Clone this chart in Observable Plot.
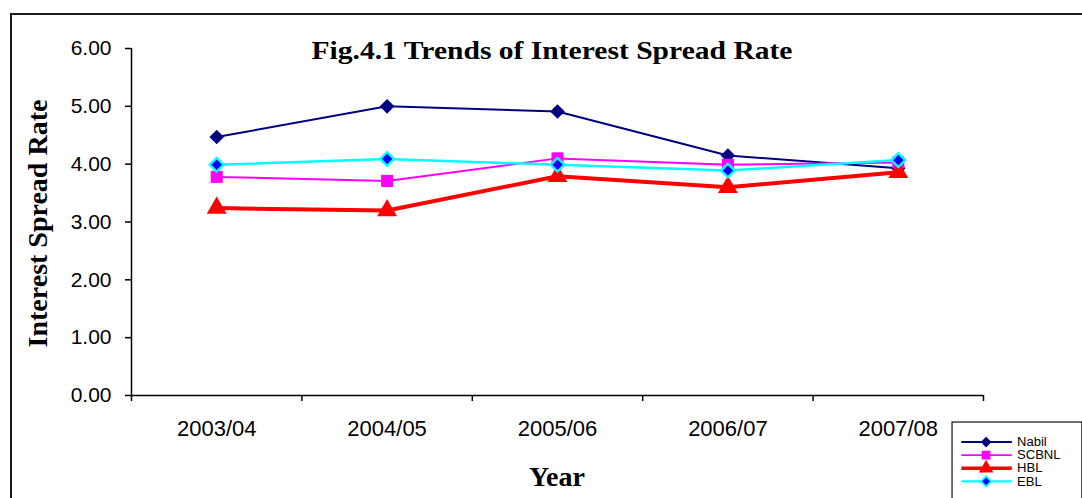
<!DOCTYPE html>
<html><head><meta charset="utf-8">
<script src="https://cdn.jsdelivr.net/npm/d3@7"></script>
<script src="https://cdn.jsdelivr.net/npm/@observablehq/plot@0.6"></script>
<style>
html,body{margin:0;padding:0;background:#fff;}
#wrap{position:relative;width:1082px;height:498px;overflow:hidden;background:#fff;}
#border{position:absolute;left:10px;top:13px;width:1200px;height:600px;border-left:2px solid #1a1a1a;border-top:2px solid #1a1a1a;}
#chart{position:absolute;left:0;top:0;}
#legend{position:absolute;left:951px;top:421px;}
#labels{position:absolute;left:0;top:0;}
</style></head><body>
<div id="wrap"><div id="border"></div><div id="chart"></div><svg id="labels" width="1082" height="498"></svg><div id="legend"></div></div>
<script>
// ---- data ----
const years = ["2003/04", "2004/05", "2005/06", "2006/07", "2007/08"];
const nabil = [4.47, 5.00, 4.91, 4.15, 3.93];
const scbnl = [3.78, 3.71, 4.10, 3.99, 4.03];
const hbl   = [3.24, 3.20, 3.79, 3.60, 3.86];
const ebl   = [3.99, 4.09, 3.99, 3.89, 4.07];
const seriesNames = ["Nabil", "SCBNL", "HBL", "EBL"];
const yTicks = [0, 1, 2, 3, 4, 5, 6];
const titleText = "Fig.4.1 Trends of Interest Spread Rate";
const yTitle = "Interest Spread Rate";
const xTitle = "Year";

// ---- styles ----
const styles = {
  Nabil: {stroke: "#000080", width: 2, symbol: "diamond2", fill: "#000080", mstroke: "none", r: 6.6, msw: 0},
  SCBNL: {stroke: "#FF00FF", width: 2, symbol: "square", fill: "#FF00FF", mstroke: "none", r: 6.8, msw: 0},
  HBL:   {stroke: "#FF0000", width: 4, symbol: "triangle", fill: "#FF0000", mstroke: "none", r: 7.4, msw: 0},
  EBL:   {stroke: "#00FFFF", width: 2.5, symbol: "diamond2", fill: "#0000FF", mstroke: "#00FFFF", r: 6.2, msw: 2.4}
};
const valuesBySeries = {Nabil: nabil, SCBNL: scbnl, HBL: hbl, EBL: ebl};
const rows = seriesNames.flatMap(name => valuesBySeries[name].map((v, i) => ({name, year: years[i], x: i + 0.5, v})));

const seriesMarks = seriesNames.flatMap(name => {
  const s = styles[name];
  const d = rows.filter(r => r.name === name);
  return [
    Plot.line(d, {x: "x", y: "v", stroke: s.stroke, strokeWidth: s.width}),
    Plot.dot(d, {x: "x", y: "v", symbol: s.symbol, r: s.r, fill: s.fill, stroke: s.mstroke, strokeWidth: s.msw})
  ];
});

const chart = Plot.plot({
  width: 1082, height: 498,
  marginLeft: 131, marginRight: 99, marginTop: 48, marginBottom: 103,
  style: {background: "transparent", fontFamily: "'Liberation Sans', Arial, sans-serif", color: "#000", overflow: "visible"},
  x: {domain: [0, years.length], axis: null},
  y: {domain: [0, 6], axis: null},
  marks: [
    Plot.axisY({ticks: yTicks, tickFormat: d => d.toFixed(2), tickSize: 6, tickPadding: 14, fontSize: 21, label: null, strokeWidth: 1.5, stroke: "#000"}),
    Plot.axisX({ticks: d3.range(years.length + 1), tickFormat: () => "", tickSize: 6, label: null, strokeWidth: 1.5, stroke: "#000"}),
    Plot.axisX({ticks: years.map((_, i) => i + 0.5), tickFormat: t => years[Math.floor(t)], tickSize: 0, tickPadding: 25, fontSize: 22, label: null}),
    Plot.ruleX([0], {y1: 0, y2: 6, stroke: "#000", strokeWidth: 1.5}),
    Plot.ruleY([0], {x1: 0, x2: years.length, stroke: "#000", strokeWidth: 1.5}),
    ...seriesMarks
  ]
});
document.getElementById("chart").appendChild(chart);

// ---- titles ----
const lab = d3.select("#labels");
lab.append("text").attr("x", 552).attr("y", 58.5).attr("text-anchor", "middle")
  .attr("font-family", "'Liberation Serif', 'Times New Roman', serif").attr("font-weight", "bold")
  .attr("font-size", 26).attr("textLength", 481).attr("lengthAdjust", "spacingAndGlyphs").text(titleText);
lab.append("text").attr("transform", "translate(47,223.5) rotate(-90)").attr("text-anchor", "middle")
  .attr("font-family", "'Liberation Serif', 'Times New Roman', serif").attr("font-weight", "bold")
  .attr("font-size", 28).text(yTitle);
lab.append("text").attr("x", 557).attr("y", 486).attr("text-anchor", "middle")
  .attr("font-family", "'Liberation Serif', 'Times New Roman', serif").attr("font-weight", "bold")
  .attr("font-size", 28).text(xTitle);

// ---- legend ----
const legendMarks = seriesNames.flatMap(name => {
  const s = styles[name];
  return [
    Plot.ruleY([name], {y: d => d, x1: 11, x2: 65, stroke: s.stroke, strokeWidth: s.width}),
    Plot.dot([name], {y: d => d, x: 37, symbol: s.symbol, r: s.r * 0.78, fill: s.fill, stroke: s.mstroke, strokeWidth: s.msw * 0.8})
  ];
});
const legend = Plot.plot({
  width: 140, height: 90, margin: 0,
  style: {background: "#fff", fontFamily: "'Liberation Sans', Arial, sans-serif", color: "#000"},
  x: {domain: [0, 140], range: [0, 140], axis: null},
  y: {type: "point", domain: seriesNames, range: [14, 71], axis: null},
  marks: [
    Plot.frame({stroke: "#000", strokeWidth: 1.2, inset: 0.6}),
    ...legendMarks,
    Plot.text(seriesNames, {y: d => d, x: 70, text: d => d, textAnchor: "start", fontSize: 14, fill: "#000"})
  ]
});
document.getElementById("legend").appendChild(legend);
</script>
</body></html>
